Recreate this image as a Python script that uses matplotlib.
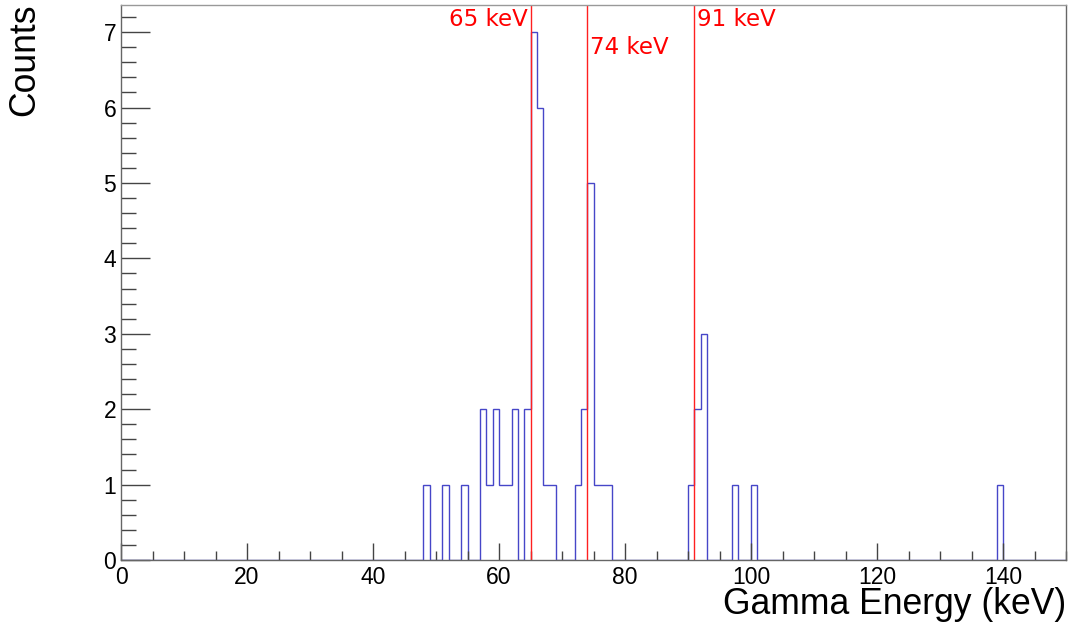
import numpy as np
import matplotlib
matplotlib.use("Agg")
import matplotlib.pyplot as plt
from matplotlib.ticker import MultipleLocator

plt.rcParams["font.family"] = ["Liberation Sans", "DejaVu Sans"]

# ---- data (1 keV bins from 0 to 150) ----
bin_lows = [48, 51, 54, 57, 58, 59, 60, 61, 62, 64, 65, 66, 67, 68,
            72, 73, 74, 75, 76, 77, 90, 91, 92, 97, 100, 139]
bin_counts = [1, 1, 1, 2, 1, 2, 1, 1, 2, 2, 7, 6, 1, 1,
              1, 2, 5, 1, 1, 1, 1, 2, 3, 1, 1, 1]
x_min, x_max, bin_width = 0, 150, 1
line_energies = [65, 74, 91]
line_labels = ["65 keV", "74 keV", "91 keV"]

edges = np.arange(x_min, x_max + bin_width, bin_width)
counts = np.zeros(len(edges) - 1)
for lo, c in zip(bin_lows, bin_counts):
    counts[int((lo - x_min) / bin_width)] = c

fig = plt.figure(figsize=(10.68, 6.24), dpi=100)
W, H = 1068, 624
ax = fig.add_axes([121 / W, 1 - 560 / H, (1066 - 121) / W, (560 - 5) / H])

ax.stairs(counts, edges, color="#4646c8", lw=1.0, baseline=0)

ax.set_xlim(x_min, x_max)
ax.set_ylim(0, 7.36)

for e in line_energies:
    ax.axvline(e, color="#ff2020", lw=1.0)

# labels for the lines
offsets = [(-3, -19, "right"), (3, -46, "left"), (3, -19, "left")]
for e, lab, (dx, dy, ha) in zip(line_energies, line_labels, offsets):
    ax.annotate(lab, xy=(e, 1.0), xycoords=("data", "axes fraction"),
                xytext=(dx, dy + 4), textcoords="offset pixels",
                ha=ha, va="center", color="red", fontsize=16.5,
                family="DejaVu Sans")

# ticks
ax.xaxis.set_major_locator(MultipleLocator(20))
ax.xaxis.set_minor_locator(MultipleLocator(5))
ax.yaxis.set_major_locator(MultipleLocator(1))
ax.yaxis.set_minor_locator(MultipleLocator(0.2))
ax.tick_params(axis="both", which="both", direction="in", top=False,
               right=False, color="#444444", width=1.0, labelsize=16.5)
ax.tick_params(axis="x", which="major", length=12.2, pad=4)
ax.tick_params(axis="x", which="minor", length=6.4)
ax.tick_params(axis="y", which="major", length=21.2, pad=3.5)
ax.tick_params(axis="y", which="minor", length=10.8)

for s in ax.spines.values():
    s.set_color("#666666")
    s.set_linewidth(1.0)
ax.spines["top"].set_color("#999999")

fig.text(1066 / W, 1 - 614 / H, "Gamma Energy (keV)", ha="right",
         va="baseline", fontsize=25.6)
fig.text(25 / W, 1 - 4 / H, "Counts", rotation=90, ha="center", va="top",
         fontsize=25.6)

fig.savefig("out.png", dpi=100)
